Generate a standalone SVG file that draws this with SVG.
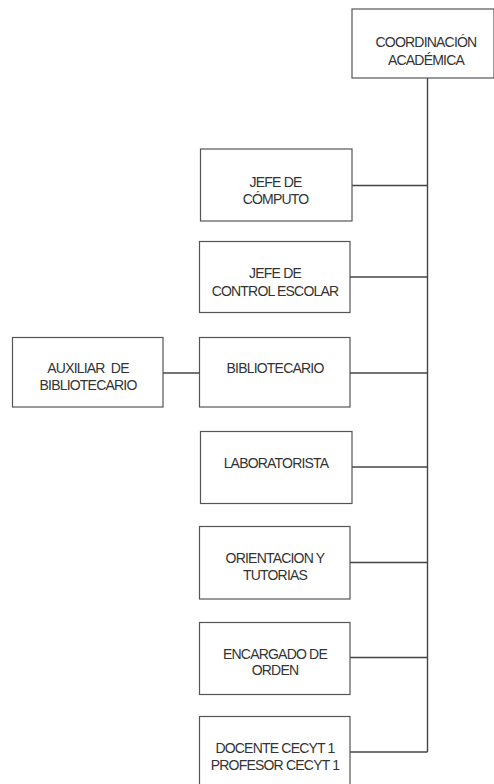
<svg xmlns="http://www.w3.org/2000/svg" width="494" height="784" viewBox="0 0 494 784">
<style>
.box{fill:#fff;stroke:#555;stroke-width:1.2}
.lbl{font-family:"Liberation Sans",Arial,sans-serif;font-size:14px;letter-spacing:-0.8px;fill:#333;text-anchor:middle}
.con{stroke:#444;stroke-width:1.4;fill:none}
</style>
<rect width="494" height="784" fill="#fff"/>
<g id="connectors">
<line class="con" x1="427.5" y1="78" x2="427.5" y2="752"/>
<line class="con" x1="352" y1="185.5" x2="427.5" y2="185.5"/>
<line class="con" x1="350" y1="277" x2="427.5" y2="277"/>
<line class="con" x1="350" y1="373" x2="427.5" y2="373"/>
<line class="con" x1="163" y1="373" x2="199" y2="373"/>
<line class="con" x1="352" y1="467" x2="427.5" y2="467"/>
<line class="con" x1="350" y1="562.5" x2="427.5" y2="562.5"/>
<line class="con" x1="350" y1="657.5" x2="427.5" y2="657.5"/>
<line class="con" x1="350" y1="752" x2="427.5" y2="752"/>
</g>
<g id="coordinacion">
<rect class="box" x="352" y="9" width="142" height="69"/>
<text class="lbl" x="426" y="47">COORDINACIÓN</text>
<text class="lbl" x="426" y="65">ACADÉMICA</text>
</g>
<g id="jefe-computo">
<rect class="box" x="200.5" y="149" width="151.5" height="72"/>
<text class="lbl" x="275.5" y="187">JEFE DE</text>
<text class="lbl" x="275.5" y="204">CÓMPUTO</text>
</g>
<g id="jefe-control">
<rect class="box" x="199.5" y="241.5" width="150.5" height="71"/>
<text class="lbl" x="275" y="278">JEFE DE</text>
<text class="lbl" x="275" y="296">CONTROL ESCOLAR</text>
</g>
<g id="auxiliar">
<rect class="box" x="12.5" y="337.5" width="150.5" height="69.5"/>
<text class="lbl" x="88" y="373">AUXILIAR&#160; DE</text>
<text class="lbl" x="88" y="390">BIBLIOTECARIO</text>
</g>
<g id="bibliotecario">
<rect class="box" x="199.5" y="337.5" width="150.5" height="69.5"/>
<text class="lbl" x="275" y="373">BIBLIOTECARIO</text>
</g>
<g id="laboratorista">
<rect class="box" x="200.5" y="431.5" width="151.5" height="72"/>
<text class="lbl" x="276" y="467.5">LABORATORISTA</text>
</g>
<g id="orientacion">
<rect class="box" x="199.5" y="526.5" width="150.5" height="72.5"/>
<text class="lbl" x="275" y="563">ORIENTACION Y</text>
<text class="lbl" x="275" y="579.5">TUTORIAS</text>
</g>
<g id="encargado">
<rect class="box" x="199.5" y="622.5" width="150.5" height="72"/>
<text class="lbl" x="275" y="658.5">ENCARGADO DE</text>
<text class="lbl" x="275" y="674.5">ORDEN</text>
</g>
<g id="docente">
<rect class="box" x="199.5" y="716.5" width="150.5" height="80"/>
<text class="lbl" x="275" y="752.5">DOCENTE CECYT 1</text>
<text class="lbl" x="275" y="770">PROFESOR CECYT 1</text>
</g>
</svg>
